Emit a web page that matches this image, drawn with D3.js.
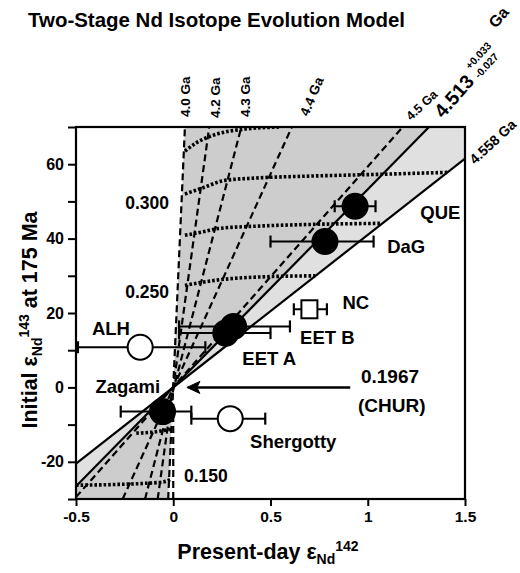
<!DOCTYPE html>
<html><head><meta charset="utf-8">
<script src="https://cdn.jsdelivr.net/npm/d3@7"></script>
<style>
body{margin:0;background:#fff;}
text{font-family:"Liberation Sans",Arial,sans-serif;font-weight:bold;fill:#000;}
</style></head>
<body><svg id="c" width="520" height="573"></svg>
<script>
// ---------- data ----------
const xTicks = [-0.5, 0, 0.5, 1, 1.5];
const xTickLabels = ["-0.5", "0", "0.5", "1", "1.5"];
const yTicks = [-30, -20, -10, 0, 10, 20, 30, 40, 50, 60, 70];
const yTickLabels = ["-20", "0", "20", "40", "60"];
const yLabelled = [-20, 0, 20, 40, 60];

// isochrons (lines through CHUR origin) – endpoints at plot edges
const isoNames = ["4.0 Ga", "4.2 Ga", "4.3 Ga", "4.4 Ga", "4.5 Ga", "4.513", "4.558 Ga"];
const isoStart = [[-0.026, -30], [-0.08, -30], [-0.145, -30], [-0.26, -30], [-0.5, -29.5], [-0.5, -26.6], [-0.5, -20.5]];
const isoEnd   = [[0.06, 70], [0.185, 70], [0.35, 70], [0.61, 70], [1.18, 70], [1.315, 70], [1.5, 61.5]];
const isoSolid = [false, false, false, false, false, true, true];
const verticalLine = [[0, -30], [0, -4]];

// constant Sm/Nd evolution curves (dotted)
const curveTop  = [[0.06, 63.5], [0.12, 65.8], [0.19, 67.5], [0.27, 68.7], [0.36, 69.4], [0.55, 70]];
const curve2    = [[0.06, 52], [0.16, 53.8], [0.26, 55.6], [0.43, 56.3], [0.7, 56.8], [1.0, 57.2], [1.41, 57.8]];
const curve300  = [[0.06, 40.9], [0.16, 41.9], [0.23, 42.7], [0.41, 43.3], [0.7, 43.8], [1.07, 44.1]];
const curve250  = [[0.06, 27.4], [0.13, 28.1], [0.25, 29], [0.45, 29.7], [0.73, 30]];
const curveLow  = [[-0.19, -12.3], [-0.1, -12], [-0.01, -11.2]];
const curve150  = [[-0.5, -26.3], [-0.3, -26.1], [-0.15, -25.8], [-0.05, -25.4], [-0.01, -24.6]];
const ratioLabels = ["0.300", "0.250", "0.150"];

// meteorites
const sampleNames = ["QUE", "DaG", "NC", "EET A", "EET B", "ALH", "Zagami", "Shergotty"];
const sampleX   = [0.935, 0.78, 0.70, 0.27, 0.31, -0.17, -0.055, 0.293];
const sampleY   = [48.7, 39.2, 21, 14.6, 16.4, 10.8, -6.5, -8.4];
const sampleXlo = [0.83, 0.50, 0.62, 0.03, 0.03, -0.49, -0.27, 0.093];
const sampleXhi = [1.04, 1.03, 0.79, 0.50, 0.60, 0.165, 0.093, 0.473];
const sampleMarker = ["filled", "filled", "square", "filled", "filled", "open", "filled", "open"];

// ---------- drawing ----------
const svg = d3.select("#c");
const x = d3.scaleLinear().domain([-0.5, 1.5]).range([76, 465]);
const y = d3.scaleLinear().domain([-30, 70]).range([499, 127]);
const line = d3.line().x(d => x(d[0])).y(d => y(d[1]));
const curve = d3.line().x(d => x(d[0])).y(d => y(d[1])).curve(d3.curveMonotoneX);

svg.append("defs").append("clipPath").attr("id", "clip")
  .append("rect").attr("x", x(-0.5)).attr("y", y(70)).attr("width", x(1.5) - x(-0.5)).attr("height", y(-30) - y(70));
const plot = svg.append("g").attr("clip-path", "url(#clip)");

// shading wedge
const s40 = isoStart[0], e40 = isoEnd[0], s513 = isoStart[5], e513 = isoEnd[5], s558 = isoStart[6], e558 = isoEnd[6];
plot.append("path").attr("d", line([[0, 0], e40, e513, [0, 0], s513, [-0.5, -30], s40, [0, 0]]))
  .attr("fill", "#cdcdcd");
plot.append("path").attr("d", line([[0, 0], e513, [1.5, 70], e558, [0, 0], s558, s513, [0, 0]]))
  .attr("fill", "#e0e0e0");

// isochrons
isoNames.forEach((n, i) => {
  plot.append("path").attr("d", line([isoStart[i], isoEnd[i]]))
    .attr("stroke", "#000").attr("stroke-width", isoSolid[i] ? 2.2 : 2.2)
    .attr("stroke-dasharray", isoSolid[i] ? null : "7,4").attr("fill", "none");
});
plot.append("path").attr("d", line(verticalLine)).attr("stroke", "#000").attr("stroke-width", 2.2)
  .attr("stroke-dasharray", "7,4").attr("fill", "none");

// dotted curves
[curveTop, curve2, curve300, curve250, curveLow, curve150].forEach(c => {
  plot.append("path").attr("d", curve(c)).attr("stroke", "#000").attr("stroke-width", 3.6)
    .attr("stroke-dasharray", "2.6,2").attr("fill", "none");
});

// frame
svg.append("rect").attr("x", x(-0.5)).attr("y", y(70)).attr("width", x(1.5) - x(-0.5)).attr("height", y(-30) - y(70))
  .attr("fill", "none").attr("stroke", "#000").attr("stroke-width", 2.2);

// axes
const xAxis = d3.axisBottom(x).tickValues(xTicks).tickFormat((d, i) => xTickLabels[i]).tickSize(7).tickPadding(5);
const gx = svg.append("g").attr("transform", `translate(0,${y(-30)})`).call(xAxis);
gx.select(".domain").remove();
gx.selectAll("line").attr("stroke-width", 2);
gx.selectAll("text").attr("font-size", 15.5).attr("font-family", "Liberation Sans, Arial").attr("font-weight", "bold");

const yAxis = d3.axisLeft(y).tickValues(yTicks).tickFormat(d => yLabelled.includes(d) ? yTickLabels[yLabelled.indexOf(d)] : "").tickSize(8).tickPadding(4);
const gy = svg.append("g").attr("transform", `translate(${x(-0.5)},0)`).call(yAxis);
gy.select(".domain").remove();
gy.selectAll("line").attr("stroke-width", 2);
gy.selectAll("text").attr("font-size", 16).attr("font-family", "Liberation Sans, Arial").attr("font-weight", "bold");

// error bars & markers
const pts = svg.append("g");
sampleNames.forEach((n, i) => {
  const cy = y(sampleY[i]);
  pts.append("line").attr("x1", x(sampleXlo[i])).attr("x2", x(sampleXhi[i])).attr("y1", cy).attr("y2", cy)
    .attr("stroke", "#000").attr("stroke-width", 2);
  [sampleXlo[i], sampleXhi[i]].forEach(v => {
    pts.append("line").attr("x1", x(v)).attr("x2", x(v)).attr("y1", cy - 6).attr("y2", cy + 6)
      .attr("stroke", "#000").attr("stroke-width", 2.2);
  });
});
sampleNames.forEach((n, i) => {
  const cx = x(sampleX[i]), cy = y(sampleY[i]);
  if (sampleMarker[i] === "square") {
    pts.append("rect").attr("x", cx - 8).attr("y", cy - 9).attr("width", 16).attr("height", 18)
      .attr("fill", "#fff").attr("stroke", "#000").attr("stroke-width", 2);
  } else {
    pts.append("circle").attr("cx", cx).attr("cy", cy).attr("r", 12.5)
      .attr("fill", sampleMarker[i] === "filled" ? "#000" : "#fff").attr("stroke", "#000").attr("stroke-width", 2);
  }
});

// sample labels
const lab = svg.append("g").attr("font-size", 18.5);
const labelPos = {"QUE": [1.27, 45.3], "DaG": [1.10, 36.2], "NC": [0.87, 21.2], "EET A": [0.355, 5.9],
  "EET B": [0.652, 11.8], "ALH": [-0.418, 14], "Zagami": [-0.4, -1.5], "Shergotty": [0.395, -16.4]};
sampleNames.forEach(n => {
  lab.append("text").attr("x", x(labelPos[n][0])).attr("y", y(labelPos[n][1])).text(n);
});
lab.append("text").attr("x", x(0.965)).attr("y", y(1.2)).attr("font-size", 19).text("0.1967");
lab.append("text").attr("x", x(0.95)).attr("y", y(-6.7)).attr("font-size", 19).text("(CHUR)");

// ratio labels
const rl = svg.append("g").attr("font-size", 17.5);
rl.append("text").attr("x", x(-0.247)).attr("y", y(48)).text(ratioLabels[0]);
rl.append("text").attr("x", x(-0.247)).attr("y", y(24.1)).text(ratioLabels[1]);
rl.append("text").attr("x", x(0.055)).attr("y", y(-25.5)).text(ratioLabels[2]);

// arrow
svg.append("line").attr("x1", x(0.91)).attr("x2", x(0.085)).attr("y1", y(0)).attr("y2", y(0))
  .attr("stroke", "#000").attr("stroke-width", 2.5);
svg.append("path").attr("d", `M${x(0.07)},${y(0)} l13,-6 l-3,6 l3,6 z`).attr("fill", "#000").attr("stroke", "#000").attr("stroke-width", 1);

// isochron labels (rotated)
function rot(txt, px, py, ang, fs) {
  return svg.append("text").attr("transform", `translate(${px},${py}) rotate(${ang})`).attr("font-size", fs).text(txt);
}
rot(isoNames[0], 190, 117, -90, 13.5);
rot(isoNames[1], 220, 118, -90, 13.5);
rot(isoNames[2], 250, 117, -90, 13.5);
rot(isoNames[3], 308, 117, -67, 13.5);
rot(isoNames[4], 411, 121, -43, 12.5);
rot(isoNames[5], 443, 119, -49, 19.5);
rot("+0.033", 470, 70, -47, 10.5);
rot("-0.027", 479, 79, -47, 10.5);
rot("Ga", 496, 29, -50, 16);
rot(isoNames[6], 475, 165, -43, 14);

// title
svg.append("text").attr("x", 28).attr("y", 27).attr("font-size", 20.5).attr("textLength", 377)
  .attr("lengthAdjust", "spacingAndGlyphs").text("Two-Stage Nd Isotope Evolution Model");

// axis titles
const xt = svg.append("text").attr("x", 268).attr("y", 559).attr("text-anchor", "middle").attr("font-size", 21.5);
xt.append("tspan").text("Present-day ε");
xt.append("tspan").attr("font-size", 14).attr("dy", 5).text("Nd");
xt.append("tspan").attr("font-size", 14).attr("dy", -13).text("142");

const yt = svg.append("text").attr("transform", "translate(37,320) rotate(-90)").attr("text-anchor", "middle").attr("font-size", 21.5);
yt.append("tspan").text("Initial ε");
yt.append("tspan").attr("font-size", 14).attr("dy", 5).text("Nd");
yt.append("tspan").attr("font-size", 14).attr("dy", -13).text("143");
yt.append("tspan").attr("dy", 8).text(" at 175 Ma");
</script></body></html>
